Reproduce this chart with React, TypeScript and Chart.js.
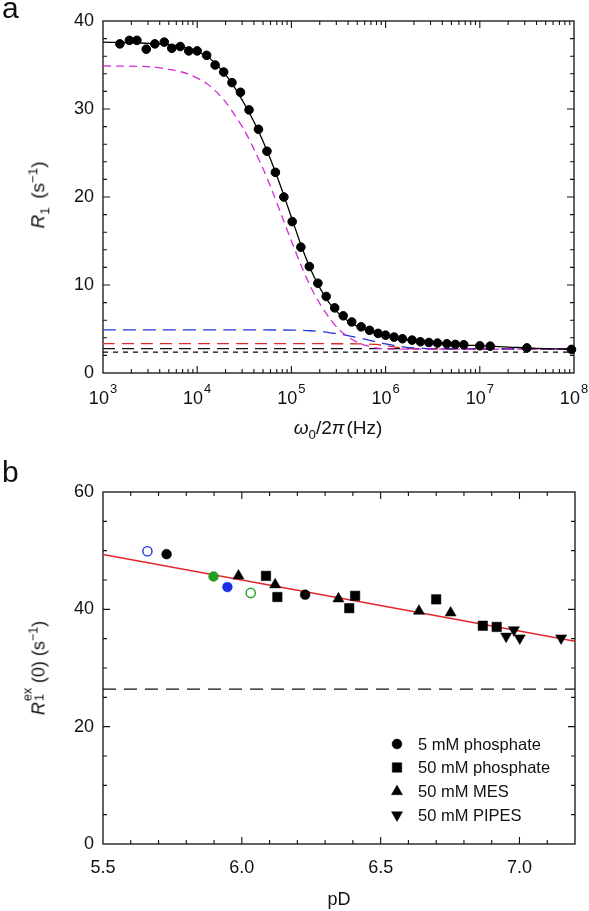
import React, { useEffect, useRef } from "react";
import { Chart, registerables } from "chart.js";

Chart.register(...registerables);

// ---------------- Panel a data ----------------
const decadeExponents = [3, 4, 5, 6, 7, 8];
const yTicksA = { min: 0, max: 40, step: 2, labelEvery: 10 };

const dotFreqHz = [
  1510, 1905, 2290, 2880, 3550, 4470, 5370, 6610, 8130, 10000,
  12600, 15500, 19100, 23400, 28800, 35500, 44700, 55000, 67600, 83200,
  102000, 126000, 155000, 191000, 234000, 288000, 355000, 437000, 550000, 676000,
  832000, 1.0e6, 1.23e6, 1.51e6, 1.91e6, 2.34e6, 2.88e6, 3.55e6, 4.47e6, 5.5e6,
  6.76e6, 1.0e7, 1.29e7, 3.16e7, 9.4e7,
];
const dotR1 = [
  37.4, 37.8, 37.8, 36.8, 37.4, 37.6, 36.9, 37.1, 36.6, 36.6,
  36.1, 35.0, 34.2, 33.0, 31.9, 29.9, 27.7, 25.2, 22.8, 20.0,
  17.2, 14.3, 12.1, 10.2, 8.7, 7.4, 6.5, 5.8, 5.25, 4.85,
  4.5, 4.3, 4.08, 3.89, 3.74, 3.55, 3.47, 3.40, 3.32, 3.25,
  3.21, 3.09, 3.05, 2.85, 2.68,
];

const fitFreqHz = [
  1e3, 2.51e3, 5.01e3, 7.94e3, 1.26e4, 1.58e4, 2.0e4, 2.51e4, 3.16e4, 3.98e4,
  5.01e4, 6.31e4, 7.94e4, 1e5, 1.26e5, 1.58e5, 2.0e5, 2.51e5, 3.16e5, 3.98e5,
  5.01e5, 6.31e5, 1e6, 1.58e6, 2.51e6, 3.98e6, 6.31e6, 1e7, 2.0e7, 3.98e7, 1e8,
];
const fitR1 = [
  37.6, 37.5, 37.3, 36.9, 36.0, 35.1, 33.9, 32.4, 30.6, 28.6,
  26.3, 23.7, 20.8, 17.7, 14.6, 11.9, 9.7, 8.0, 6.8, 5.9,
  5.3, 4.85, 4.25, 3.85, 3.55, 3.35, 3.2, 3.1, 2.95, 2.8, 2.7,
];

const magentaFreqHz = [
  1e3, 3.16e3, 5.01e3, 7.94e3, 1.26e4, 1.58e4, 2.0e4, 2.51e4, 3.16e4, 3.98e4,
  5.01e4, 6.31e4, 7.94e4, 1e5, 1.26e5, 1.58e5, 2.0e5, 2.51e5, 3.16e5, 3.98e5,
  5.01e5, 6.31e5, 7.94e5, 1e6, 2.0e6, 1e8,
];
const magentaR1 = [
  34.9, 34.8, 34.5, 34.0, 32.9, 32.0, 30.8, 29.3, 27.6, 25.5,
  23.2, 20.6, 17.8, 15.0, 12.3, 9.9, 7.9, 6.3, 5.0, 4.1,
  3.5, 3.1, 2.85, 2.75, 2.72, 2.72,
];

const blueFreqHz = [1e3, 1e5, 1.58e5, 2.51e5, 3.98e5, 6.31e5, 1e6, 1.58e6, 2.51e6, 3.98e6, 1e8];
const blueR1 = [4.9, 4.88, 4.8, 4.6, 4.25, 3.8, 3.3, 2.95, 2.8, 2.74, 2.72];

const redFreqHz = [1e3, 5.01e5, 7.94e5, 1e6, 1.26e6, 2.0e6, 3.16e6, 1e8];
const redR1 = [3.33, 3.32, 3.25, 3.1, 2.95, 2.78, 2.73, 2.72];

const blackDashFreqHz = [1e3, 1e8];
const blackDashR1 = [2.76, 2.76];
const blackDotFreqHz = [1e3, 1e8];
const blackDotR1 = [2.37, 2.37];

// ---------------- Panel b data ----------------
const pdTickLabels = ["5.5", "6.0", "6.5", "7.0"];
const xRangeB = { min: 5.5, max: 7.2, step: 0.1 };
const yTicksB = { min: 0, max: 60, step: 5, labelEvery: 20 };

const phos5PD = [5.729, 6.228];
const phos5R = [49.4, 42.5];
const phos50PD = [6.087, 6.128, 6.387, 6.408, 6.70, 6.868, 6.918];
const phos50R = [45.7, 42.1, 40.2, 42.3, 41.7, 37.2, 37.0];
const mesPD = [5.988, 6.12, 6.348, 6.638, 6.752];
const mesR = [45.7, 44.2, 41.8, 39.7, 39.4];
const pipesPD = [6.952, 6.980, 7.001, 7.150];
const pipesR = [35.4, 36.5, 35.1, 35.1];

const blueOpenPD = [5.66];
const blueOpenR = [49.9];
const greenFilledPD = [5.898];
const greenFilledR = [45.6];
const blueFilledPD = [5.948];
const blueFilledR = [43.8];
const greenOpenPD = [6.032];
const greenOpenR = [42.8];

const fitLinePD = [5.5, 7.2];
const fitLineR = [49.35, 34.55];
const refLinePD = [5.5, 7.2];
const refLineR = [26.4, 26.4];

const legendLabels = ["5 mM phosphate", "50 mM phosphate", "50 mM MES", "50 mM PIPES"];

// ---------------- helpers ----------------
const FONT = '"Liberation Sans", Arial, Helvetica, sans-serif';
const pts = (xs: number[], ys: number[]) => xs.map((x, i) => ({ x, y: ys[i] }));

function framePlugin(isMajorX: (v: any) => boolean, isMajorY: (v: any) => boolean) {
  return {
    id: "frameTicks",
    beforeDatasetsDraw(chart: any) {
      const { ctx, chartArea } = chart;
      const { left, right, top, bottom } = chartArea;
      const xs = chart.scales.x;
      const ys = chart.scales.y;
      ctx.save();
      ctx.strokeStyle = "#111";
      ctx.lineWidth = 1.3;
      ctx.strokeRect(left, top, right - left, bottom - top);
      ctx.lineWidth = 1.1;
      ctx.beginPath();
      xs.ticks.forEach((t: any) => {
        const p = xs.getPixelForValue(t.value);
        if (p <= left + 1 || p >= right - 1) return;
        const L = isMajorX(t) ? 7 : 4;
        ctx.moveTo(p, bottom);
        ctx.lineTo(p, bottom - L);
        ctx.moveTo(p, top);
        ctx.lineTo(p, top + L);
      });
      ys.ticks.forEach((t: any) => {
        const p = ys.getPixelForValue(t.value);
        if (p <= top + 1 || p >= bottom - 1) return;
        const L = isMajorY(t) ? 7 : 4;
        ctx.moveTo(left, p);
        ctx.lineTo(left + L, p);
        ctx.moveTo(right, p);
        ctx.lineTo(right - L, p);
      });
      ctx.stroke();
      ctx.restore();
    },
  };
}

const commonScaleY = (range: { min: number; max: number; step: number; labelEvery: number }) => ({
  min: range.min,
  max: range.max,
  grid: { display: false, drawTicks: false },
  border: { display: false },
  ticks: {
    stepSize: range.step,
    autoSkip: false,
    padding: 9,
    color: "#111",
    font: { family: FONT, size: 18 },
    callback: (v: any) => (Math.abs(v % range.labelEvery) < 1e-9 ? String(v) : ""),
  },
  afterFit: (s: any) => {
    s.width = 103;
  },
});

function drawMarker(ctx: CanvasRenderingContext2D, style: string, r: number, rotation: number, x: number, y: number) {
  ctx.save();
  ctx.translate(x, y);
  ctx.rotate((rotation * Math.PI) / 180);
  ctx.beginPath();
  if (style === "rect") {
    const s = Math.SQRT1_2 * r;
    ctx.rect(-s, -s, 2 * s, 2 * s);
  } else if (style === "triangle") {
    ctx.moveTo(0, -r);
    ctx.lineTo(r * Math.cos(Math.PI / 6), r / 2);
    ctx.lineTo(-r * Math.cos(Math.PI / 6), r / 2);
    ctx.closePath();
  } else {
    ctx.arc(0, 0, r, 0, Math.PI * 2);
  }
  ctx.fill();
  ctx.stroke();
  ctx.restore();
}

export default function App() {
  const refA = useRef<HTMLCanvasElement>(null);
  const refB = useRef<HTMLCanvasElement>(null);

  useEffect(() => {
    // ---------- Panel a ----------
    const xLabelPluginA = {
      id: "xLabelsA",
      afterDraw(chart: any) {
        const { ctx } = chart;
        const xs = chart.scales.x;
        ctx.save();
        ctx.fillStyle = "#111";
        ctx.textBaseline = "alphabetic";
        ctx.textAlign = "left";
        xs.ticks.forEach((t: any) => {
          if (!t.major) return;
          const px = xs.getPixelForValue(t.value);
          const exp = String(Math.round(Math.log10(t.value)));
          ctx.font = `18px ${FONT}`;
          const w1 = ctx.measureText("10").width;
          ctx.font = `13px ${FONT}`;
          const w2 = ctx.measureText(exp).width;
          const start = px - (w1 + w2 + 1) / 2;
          ctx.font = `18px ${FONT}`;
          ctx.fillText("10", start, 404);
          ctx.font = `13px ${FONT}`;
          ctx.fillText(exp, start + w1 + 1, 393);
        });
        ctx.restore();
      },
    };

    const chartA = new Chart(refA.current as HTMLCanvasElement, {
      type: "scatter",
      data: {
        datasets: [
          {
            label: "R1",
            data: pts(dotFreqHz, dotR1),
            pointRadius: 4.3,
            pointBorderWidth: 1,
            backgroundColor: "#000",
            borderColor: "#000",
            showLine: false,
            clip: false,
          } as any,
          {
            label: "fit",
            data: pts(fitFreqHz, fitR1),
            showLine: true,
            pointRadius: 0,
            borderColor: "#000",
            borderWidth: 1.3,
            tension: 0.3,
          },
          {
            label: "magenta",
            data: pts(magentaFreqHz, magentaR1),
            showLine: true,
            pointRadius: 0,
            borderColor: "#d42cd4",
            borderWidth: 1.3,
            borderDash: [8, 5],
            tension: 0.3,
          },
          {
            label: "blue",
            data: pts(blueFreqHz, blueR1),
            showLine: true,
            pointRadius: 0,
            borderColor: "#2236d8",
            borderWidth: 1.3,
            borderDash: [13, 7],
            tension: 0.3,
          },
          {
            label: "red",
            data: pts(redFreqHz, redR1),
            showLine: true,
            pointRadius: 0,
            borderColor: "#e02a2a",
            borderWidth: 1.3,
            borderDash: [12, 7],
            tension: 0.3,
          },
          {
            label: "black dash",
            data: pts(blackDashFreqHz, blackDashR1),
            showLine: true,
            pointRadius: 0,
            borderColor: "#111",
            borderWidth: 1.3,
            borderDash: [12, 7],
          },
          {
            label: "black dot",
            data: pts(blackDotFreqHz, blackDotR1),
            showLine: true,
            pointRadius: 0,
            borderColor: "#111",
            borderWidth: 1.3,
            borderDash: [5, 5],
          },
        ],
      },
      options: {
        animation: false,
        responsive: false,
        maintainAspectRatio: false,
        events: [],
        layout: { padding: { left: 0, top: 21, right: 15, bottom: 67 } },
        plugins: { legend: { display: false }, tooltip: { enabled: false } },
        scales: {
          x: {
            type: "logarithmic",
            min: 10 ** decadeExponents[0],
            max: 10 ** decadeExponents[decadeExponents.length - 1],
            grid: { display: false, drawTicks: false },
            border: { display: false },
            ticks: { display: false },
            afterBuildTicks: (scale: any) => {
              const ticks: any[] = [];
              decadeExponents.forEach((e, i) => {
                ticks.push({ value: 10 ** e, major: true });
                if (i < decadeExponents.length - 1) {
                  for (let m = 2; m <= 9; m++) ticks.push({ value: m * 10 ** e, major: false });
                }
              });
              scale.ticks = ticks;
            },
            afterFit: (s: any) => {
              s.height = 0;
            },
          },
          y: commonScaleY(yTicksA) as any,
        },
      },
      plugins: [
        framePlugin((t) => !!t.major, (t) => Math.abs(t.value % yTicksA.labelEvery) < 1e-9),
        xLabelPluginA,
      ],
    } as any);

    // ---------- Panel b ----------
    const xLabelPluginB = {
      id: "xLabelsB",
      afterDraw(chart: any) {
        const { ctx } = chart;
        const xs = chart.scales.x;
        ctx.save();
        ctx.fillStyle = "#111";
        ctx.textAlign = "center";
        ctx.textBaseline = "alphabetic";
        ctx.font = `18px ${FONT}`;
        pdTickLabels.forEach((lab) => {
          const px = xs.getPixelForValue(parseFloat(lab));
          ctx.fillText(lab, px, 433);
        });
        ctx.restore();
      },
    };

    const legendPluginB = {
      id: "legendB",
      afterDraw(chart: any) {
        const { ctx } = chart;
        ctx.save();
        ctx.textAlign = "left";
        ctx.textBaseline = "middle";
        ctx.font = `16.5px ${FONT}`;
        const rowsY = [304, 327.5, 351.5, 375];
        legendLabels.forEach((lab, i) => {
          const ds = chart.data.datasets[i];
          ctx.fillStyle = "#000";
          ctx.strokeStyle = "#000";
          ctx.lineWidth = 0.5;
          drawMarker(ctx, ds.pointStyle, ds.pointRadius, ds.pointRotation || 0, 397, rowsY[i]);
          ctx.fillStyle = "#111";
          ctx.fillText(lab, 418, rowsY[i] + 1);
        });
        ctx.restore();
      },
    };

    const chartB = new Chart(refB.current as HTMLCanvasElement, {
      type: "scatter",
      data: {
        datasets: [
          {
            label: legendLabels[0],
            data: pts(phos5PD, phos5R),
            pointStyle: "circle",
            pointRadius: 4.9,
            pointBorderWidth: 0.5,
            backgroundColor: "#000",
            borderColor: "#000",
          },
          {
            label: legendLabels[1],
            data: pts(phos50PD, phos50R),
            pointStyle: "rect",
            pointRadius: 6.7,
            pointBorderWidth: 0.5,
            backgroundColor: "#000",
            borderColor: "#000",
          },
          {
            label: legendLabels[2],
            data: pts(mesPD, mesR),
            pointStyle: "triangle",
            pointRadius: 6.4,
            pointBorderWidth: 0.5,
            backgroundColor: "#000",
            borderColor: "#000",
          },
          {
            label: legendLabels[3],
            data: pts(pipesPD, pipesR),
            pointStyle: "triangle",
            pointRotation: 180,
            pointRadius: 6.4,
            pointBorderWidth: 0.5,
            backgroundColor: "#000",
            borderColor: "#000",
          },
          {
            label: "blue open",
            data: pts(blueOpenPD, blueOpenR),
            pointStyle: "circle",
            pointRadius: 4.6,
            pointBorderWidth: 1.4,
            backgroundColor: "#fff",
            borderColor: "#2233dd",
          },
          {
            label: "green filled",
            data: pts(greenFilledPD, greenFilledR),
            pointStyle: "circle",
            pointRadius: 4.9,
            pointBorderWidth: 0.5,
            backgroundColor: "#1f9e1f",
            borderColor: "#1f9e1f",
          },
          {
            label: "blue filled",
            data: pts(blueFilledPD, blueFilledR),
            pointStyle: "circle",
            pointRadius: 4.9,
            pointBorderWidth: 0.5,
            backgroundColor: "#1a2ee6",
            borderColor: "#1a2ee6",
          },
          {
            label: "green open",
            data: pts(greenOpenPD, greenOpenR),
            pointStyle: "circle",
            pointRadius: 4.6,
            pointBorderWidth: 1.4,
            backgroundColor: "#fff",
            borderColor: "#1f9e1f",
          },
          {
            label: "fit",
            data: pts(fitLinePD, fitLineR),
            showLine: true,
            pointRadius: 0,
            borderColor: "#e3242b",
            borderWidth: 1.4,
          },
          {
            label: "reference",
            data: pts(refLinePD, refLineR),
            showLine: true,
            pointRadius: 0,
            borderColor: "#111",
            borderWidth: 1.3,
            borderDash: [13, 8],
          },
        ],
      },
      options: {
        animation: false,
        responsive: false,
        maintainAspectRatio: false,
        events: [],
        layout: { padding: { left: 0, top: 52, right: 14, bottom: 67 } },
        plugins: { legend: { display: false }, tooltip: { enabled: false } },
        scales: {
          x: {
            type: "linear",
            min: xRangeB.min,
            max: xRangeB.max,
            grid: { display: false, drawTicks: false },
            border: { display: false },
            ticks: { display: false, stepSize: xRangeB.step, autoSkip: false },
            afterFit: (s: any) => {
              s.height = 0;
            },
          },
          y: commonScaleY(yTicksB) as any,
        },
      },
      plugins: [
        framePlugin(
          (t) => Math.abs(t.value * 2 - Math.round(t.value * 2)) < 1e-6,
          (t) => Math.abs(t.value % yTicksB.labelEvery) < 1e-9
        ),
        xLabelPluginB,
        legendPluginB,
      ],
    } as any);

    return () => {
      chartA.destroy();
      chartB.destroy();
    };
  }, []);

  const txt: React.CSSProperties = {
    position: "absolute",
    fontFamily: FONT,
    fontSize: 18,
    color: "#111",
    whiteSpace: "nowrap",
    lineHeight: 1,
  };
  const rot = (cx: number, cy: number): React.CSSProperties => ({
    ...txt,
    left: cx,
    top: cy,
    transform: "translate(-50%, -50%) rotate(-90deg)",
  });

  return (
    <div
      style={{
        position: "absolute",
        left: 0,
        top: 0,
        width: 589,
        height: 911,
        background: "#fff",
        overflow: "hidden",
      }}
    >
      <canvas ref={refA} width={589} height={440} style={{ position: "absolute", left: 0, top: 0 }} />
      <canvas ref={refB} width={589} height={471} style={{ position: "absolute", left: 0, top: 440 }} />

      <div style={{ ...txt, left: 2, top: -7, fontSize: 30 }}>a</div>
      <div style={{ ...txt, left: 2, top: 457, fontSize: 30 }}>b</div>

      {/* Panel a axis titles */}
      <div style={{ ...rot(39, 195), fontSize: 19 }}>
        <i>R</i>
        <sub style={{ fontSize: "0.7em" }}>1</sub>
        <span style={{ display: "inline-block", width: "0.45em" }} />
        (s<sup style={{ fontSize: "0.7em" }}>−1</sup>)
      </div>
      <div style={{ ...txt, left: 338, top: 430, fontSize: 19, transform: "translate(-50%, -50%)" }}>
        <i>ω</i>
        <sub style={{ fontSize: "0.7em" }}>0</sub>/2<i>π</i>
        <span style={{ display: "inline-block", width: "0.1em" }} />
        (Hz)
      </div>

      {/* Panel b axis titles */}
      <div style={{ ...rot(37, 668), fontSize: 18 }}>
        <i>R</i>
        <span
          style={{
            display: "inline-block",
            position: "relative",
            width: "1.05em",
            height: "1em",
            verticalAlign: "baseline",
          }}
        >
          <span style={{ position: "absolute", left: 1, top: "-0.42em", fontSize: "0.7em" }}>ex</span>
          <span style={{ position: "absolute", left: 1, top: "0.55em", fontSize: "0.7em" }}>1</span>
        </span>
        (0) (s<sup style={{ fontSize: "0.7em" }}>−1</sup>)
      </div>
      <div style={{ ...txt, left: 339, top: 899, transform: "translate(-50%, -50%)" }}>pD</div>
    </div>
  );
}
